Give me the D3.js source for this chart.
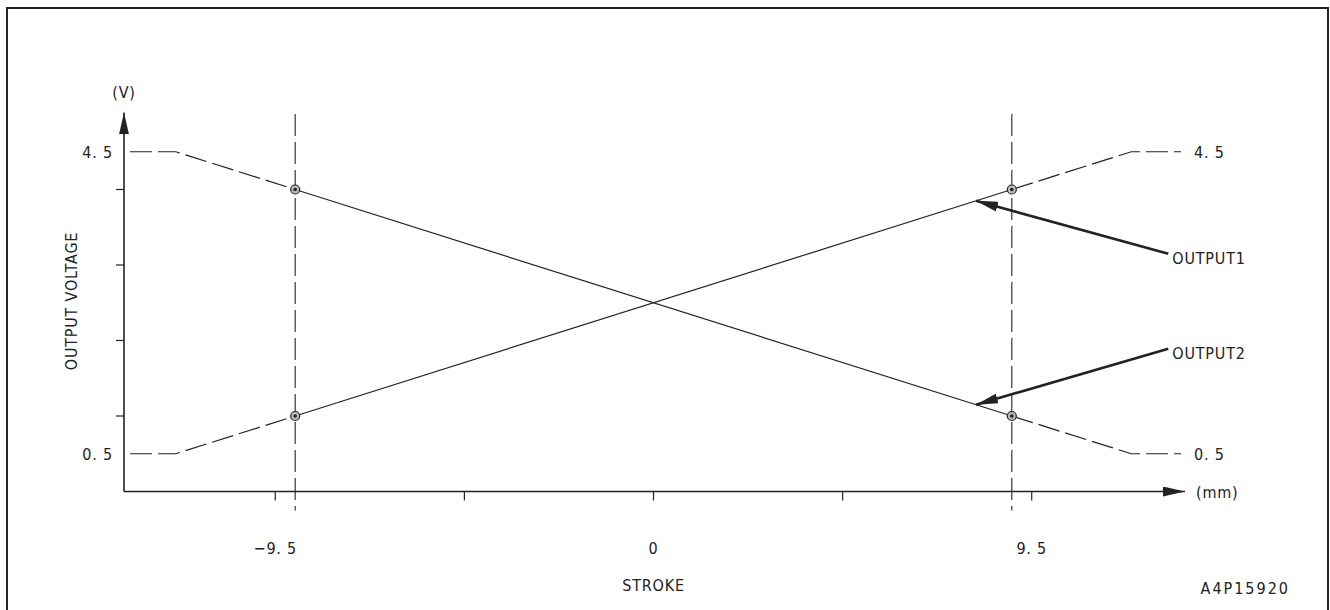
<!DOCTYPE html>
<html>
<head>
<meta charset="utf-8">
<script src="https://cdn.jsdelivr.net/npm/d3@7"></script>
<style>
  body { margin: 0; background: #fff; }
  svg text { font-family: 'Liberation Sans Narrow', 'DejaVu Sans Condensed', sans-serif; font-size: 16px; fill: #222; letter-spacing: 0.8px; }
</style>
</head>
<body>
<div id="chart"></div>
<script>
// stroke (mm) break points and output voltages
var strokePts = [-13.15, -12, -9, 9, 12, 13.25];
var output1 = [0.5, 0.5, 1.0, 4.0, 4.5, 4.5];
var output2 = [4.5, 4.5, 4.0, 1.0, 0.5, 0.5];

// axis ticks and labels
var xTicks = [-9.5, -4.75, 0, 4.75, 9.5];
var xLabels = [-9.5, 0, 9.5];
var yTicks = [1, 2, 3, 4];
var yLabels = [0.5, 4.5];
var refStroke = [-9, 9];

// arrow callouts: [label, from stroke, from V, to stroke, to V]
var callouts = [
    ['OUTPUT1', 12.93, 3.15, 8.1, 3.85],
    ['OUTPUT2', 12.93, 1.89, 8.1, 1.15]
];

var W = 1330, H = 610;
var ink = '#222';

var svg = d3.select('#chart')
    .append('svg')
    .attr('width', W)
    .attr('height', H);

var defs = svg.append('defs');
defs.append('marker')
    .attr('id', 'head')
    .attr('viewBox', '0 0 10 10')
    .attr('preserveAspectRatio', 'none')
    .attr('refX', 10).attr('refY', 5)
    .attr('markerUnits', 'userSpaceOnUse')
    .attr('markerWidth', 22).attr('markerHeight', 10)
    .attr('orient', 'auto')
    .append('path')
    .attr('d', 'M0,0 L10,5 L0,10 Z')
    .attr('fill', ink);

// frame
svg.append('path')
    .attr('d', 'M7,615 V8 H1328 V615')
    .attr('fill', 'none')
    .attr('stroke', ink)
    .attr('stroke-width', 2);

var x = d3.scaleLinear().domain([-13.3, 13.3]).range([124, 1183]);
var y = d3.scaleLinear().domain([0, 5]).range([491.5, 114]);

function fmt(v) {
    if (v === 0) return '0';
    return d3.format('.1f')(v).replace('.', '. ');
}

// axes lines with arrow heads
svg.append('line')
    .attr('x1', x(-13.3)).attr('y1', y(0))
    .attr('x2', x(13.35)).attr('y2', y(0))
    .attr('stroke', ink).attr('stroke-width', 1.6)
    .attr('marker-end', 'url(#head)');
svg.append('line')
    .attr('x1', x(-13.3)).attr('y1', y(0))
    .attr('x2', x(-13.3)).attr('y2', y(5.02))
    .attr('stroke', ink).attr('stroke-width', 1.6)
    .attr('marker-end', 'url(#head)');

// ticks
svg.selectAll('.xtick')
    .data(xTicks)
    .enter()
    .append('line')
    .attr('class', 'xtick')
    .attr('x1', function (d) { return x(d); })
    .attr('x2', function (d) { return x(d); })
    .attr('y1', y(0)).attr('y2', y(0) + 9)
    .attr('stroke', ink).attr('stroke-width', 1.2);

svg.selectAll('.ytick')
    .data(yTicks)
    .enter()
    .append('line')
    .attr('class', 'ytick')
    .attr('x1', x(-13.3) - 8).attr('x2', x(-13.3))
    .attr('y1', function (d) { return y(d); })
    .attr('y2', function (d) { return y(d); })
    .attr('stroke', ink).attr('stroke-width', 1.2);

// tick labels
svg.selectAll('.xlab')
    .data(xLabels)
    .enter()
    .append('text')
    .attr('x', function (d) { return x(d); })
    .attr('y', 554)
    .attr('text-anchor', 'middle')
    .text(fmt);

svg.selectAll('.ylabL')
    .data(yLabels)
    .enter()
    .append('text')
    .attr('x', 113)
    .attr('y', function (d) { return y(d) + 6; })
    .attr('text-anchor', 'end')
    .text(fmt);

svg.selectAll('.ylabR')
    .data(yLabels)
    .enter()
    .append('text')
    .attr('x', 1194)
    .attr('y', function (d) { return y(d) + 6; })
    .text(fmt);

svg.append('text').attr('x', x(-13.3)).attr('y', 98).attr('text-anchor', 'middle').text('(V)');
svg.append('text').attr('x', 1196).attr('y', 498).text('(mm)');
svg.append('text').attr('x', x(0)).attr('y', 591).attr('text-anchor', 'middle').text('STROKE');
svg.append('text').attr('x', 1290).attr('y', 594).attr('text-anchor', 'end').style('letter-spacing', '2px').text('A4P15920');
svg.append('text')
    .attr('transform', 'translate(77,301) rotate(-90)')
    .attr('text-anchor', 'middle')
    .text('OUTPUT VOLTAGE');

// reference verticals
svg.selectAll('.ref')
    .data(refStroke)
    .enter()
    .append('line')
    .attr('x1', function (d) { return x(d); })
    .attr('x2', function (d) { return x(d); })
    .attr('y1', y(5)).attr('y2', y(-0.25))
    .attr('stroke', ink).attr('stroke-width', 1.1)
    .attr('stroke-dasharray', '22,6');

// output curves
var line = d3.line()
    .x(function (d) { return x(d[0]); })
    .y(function (d) { return y(d[1]); });

[output1, output2].forEach(function (vals) {
    var pts = strokePts.map(function (s, i) { return [s, vals[i]]; });
    svg.append('path')
        .attr('d', line(pts.slice(0, 3)))
        .attr('fill', 'none').attr('stroke', ink).attr('stroke-width', 1.2)
        .attr('stroke-dasharray', '22,6');
    svg.append('path')
        .attr('d', line(pts.slice(3)))
        .attr('fill', 'none').attr('stroke', ink).attr('stroke-width', 1.2)
        .attr('stroke-dasharray', '22,6');
    svg.append('path')
        .attr('d', line(pts.slice(2, 4)))
        .attr('fill', 'none').attr('stroke', ink).attr('stroke-width', 1.2);
    // markers on the reference lines
    [pts[2], pts[3]].forEach(function (p) {
        svg.append('circle')
            .attr('cx', x(p[0])).attr('cy', y(p[1])).attr('r', 4.5)
            .attr('fill', '#bbb').attr('stroke', ink).attr('stroke-width', 1.2);
        svg.append('circle')
            .attr('cx', x(p[0])).attr('cy', y(p[1])).attr('r', 1.8)
            .attr('fill', ink);
    });
});

// callouts
callouts.forEach(function (c) {
    svg.append('line')
        .attr('x1', x(c[1])).attr('y1', y(c[2]))
        .attr('x2', x(c[3])).attr('y2', y(c[4]))
        .attr('stroke', ink).attr('stroke-width', 2.6)
        .attr('marker-end', 'url(#head)');
    svg.append('text')
        .attr('x', x(c[1]) + 4)
        .attr('y', y(c[2]) + 10)
        .text(c[0]);
});
</script>
</body>
</html>
